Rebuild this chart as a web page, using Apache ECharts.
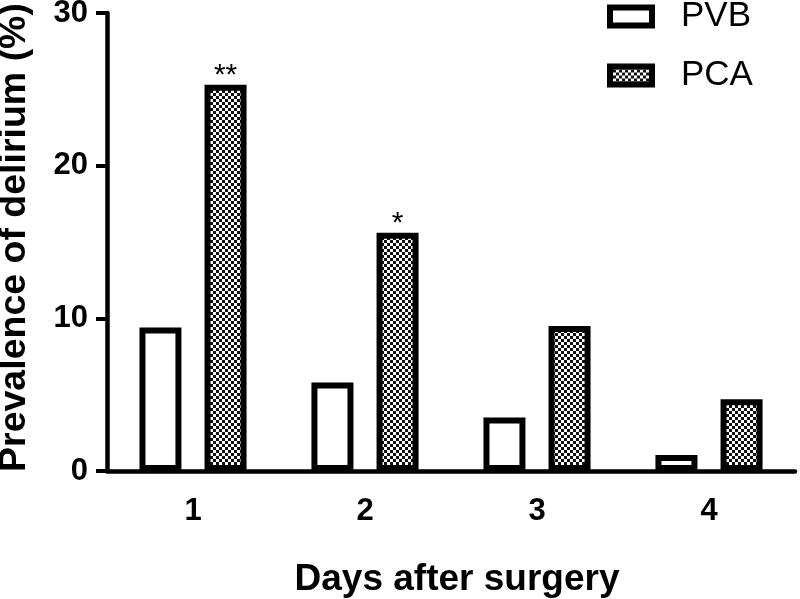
<!DOCTYPE html>
<html>
<head>
<meta charset="utf-8">
<script src="https://cdn.jsdelivr.net/npm/echarts@6/dist/echarts.min.js"></script>
<style>html,body{margin:0;padding:0;background:#fff;}#c{width:800px;height:599px;}</style>
</head>
<body>
<div id="c"></div>
<script>
const categories = ['1', '2', '3', '4'];
const pvbValues = [9.4, 5.8, 3.5, 1.05];
const pcaValues = [25.3, 15.6, 9.5, 4.7];
const pcaMarks = ['**', '*', '', ''];
const yTicks = [0, 10, 20, 30];

// checkerboard pattern
const pat = document.createElement('canvas');
pat.width = 6; pat.height = 6;
const g = pat.getContext('2d');
g.fillStyle = '#fff'; g.fillRect(0, 0, 6, 6);
g.fillStyle = '#111';
g.fillRect(0, 0, 3, 3); g.fillRect(3, 3, 3, 3);
const patFill = { image: pat, repeat: 'repeat' };

const FONT = '"Liberation Sans", Arial, sans-serif';
const chart = echarts.init(document.getElementById('c'), null, { renderer: 'canvas' });
chart.setOption({
  animation: false,
  backgroundColor: '#fff',
  grid: { left: 107, right: 5, top: 13, bottom: 128, containLabel: false, outerBoundsMode: 'none' },
  legend: {
    orient: 'vertical', left: 607, top: -1, padding: 0,
    itemWidth: 42, itemHeight: 18, itemGap: 24,
    textStyle: { fontFamily: FONT, fontSize: 35, color: '#000', padding: [0, 0, 0, 24], lineHeight: 30 },
    data: [
      { name: 'PVB', icon: 'rect', itemStyle: { color: '#fff', borderColor: '#000', borderWidth: 6 } },
      { name: 'PCA', icon: 'rect', itemStyle: { color: patFill, borderColor: '#000', borderWidth: 6 } }
    ]
  },
  xAxis: {
    type: 'category', data: categories,
    name: 'Days after surgery', nameLocation: 'middle', nameGap: 90,
    nameTextStyle: { fontFamily: FONT, fontSize: 37, fontWeight: 'bold', color: '#000', padding: [0, 0, 0, 12] },
    axisLine: { lineStyle: { color: '#000', width: 4.5 } },
    axisTick: { alignWithLabel: true, length: 12, lineStyle: { color: '#000', width: 4 } },
    axisLabel: { fontFamily: FONT, fontSize: 31, fontWeight: 'bold', color: '#000', margin: 25 }
  },
  yAxis: {
    type: 'value', min: yTicks[0], max: yTicks[yTicks.length - 1], interval: 10,
    name: 'Prevalence of delirium (%)', nameLocation: 'middle', nameGap: 73,
    nameTextStyle: { fontFamily: FONT, fontSize: 37.5, fontWeight: 'bold', color: '#000', padding: [0, 0, 0, 9] },
    axisLine: { show: true, lineStyle: { color: '#000', width: 4.5 } },
    axisTick: { show: true, length: 11, lineStyle: { color: '#000', width: 4 } },
    axisLabel: { fontFamily: FONT, fontSize: 31, fontWeight: 'bold', color: '#000', margin: 19 },
    splitLine: { show: false }
  },
  series: [
    {
      name: 'PVB', type: 'bar', data: pvbValues,
      barWidth: 42, barGap: '55%',
      itemStyle: { color: '#fff', borderColor: '#000', borderWidth: 6 }
    },
    {
      name: 'PCA', type: 'bar',
      data: pcaValues.map((v, i) => ({ value: v, label: { show: !!pcaMarks[i], formatter: pcaMarks[i] } })),
      barWidth: 42,
      itemStyle: { color: patFill, borderColor: '#000', borderWidth: 6 },
      label: { position: 'top', distance: 0, offset: [0, 6], fontFamily: FONT, fontSize: 30, color: '#000' }
    }
  ]
});
</script>
</body>
</html>
